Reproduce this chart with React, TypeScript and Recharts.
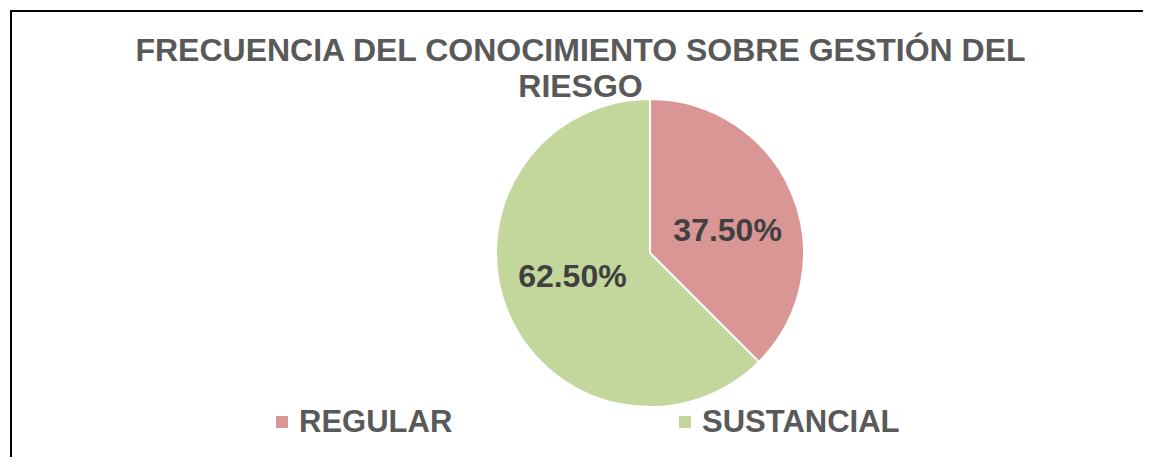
import { PieChart, Pie, Cell, Legend } from 'recharts'

const categories = ['REGULAR', 'SUSTANCIAL']
const counts = [3, 5]
const colors = ['#D99694', '#C3D69B']
const titleLines = ['FRECUENCIA DEL CONOCIMIENTO SOBRE GESTIÓN DEL', 'RIESGO']

const data = categories.map((name, i) => ({ name, value: counts[i] }))

const FONT = '"Liberation Sans", Arial, sans-serif'
const RAD = Math.PI / 180

// Excel "best fit" style placement, a bit flatter than the mid-angle radius
const renderLabel = (p: any) => {
  const x = p.cx + 84 * Math.cos(-p.midAngle * RAD)
  const y = p.cy + 60 * Math.sin(-p.midAngle * RAD)
  return (
    <text x={x} y={y} textAnchor="middle" dominantBaseline="central" fill="#404040"
      style={{ fontFamily: FONT, fontSize: 32, fontWeight: 700 }}>
      {(p.percent * 100).toFixed(2)}%
    </text>
  )
}

const renderLegend = (props: any) => (
  <div style={{ display: 'flex', fontFamily: FONT, fontSize: 31, fontWeight: 700, color: '#595959', lineHeight: '36px' }}>
    {(props.payload || []).map((e: any) => (
      <div key={e.value} style={{ width: 403, display: 'flex', alignItems: 'center' }}>
        <span style={{ width: 12, height: 12, background: e.color, marginRight: 11, display: 'inline-block' }} />
        <span>{e.value}</span>
      </div>
    ))}
  </div>
)

export default function App() {
  return (
    <div style={{ position: 'relative', margin: -8, width: 1151, height: 465, overflow: 'hidden', background: '#fff' }}>
      <div style={{ position: 'absolute', left: 10, top: 10, width: 1141, height: 2, background: '#000' }} />
      <div style={{ position: 'absolute', left: 10, top: 10, width: 2, height: 455, background: '#000' }} />
      <div style={{ position: 'absolute', left: 10, top: 32, width: 1141, textAlign: 'center', fontFamily: FONT, fontSize: 32, fontWeight: 700, color: '#595959', lineHeight: '36px' }}>
        {titleLines.map((t) => <div key={t}>{t}</div>)}
      </div>
      <div style={{ position: 'absolute', left: 0, top: 0 }}>
        <PieChart width={1151} height={465} margin={{ top: 0, right: 0, bottom: 0, left: 0 }}>
          <Pie data={data} dataKey="value" nameKey="name" cx={650} cy={253} outerRadius={154}
            startAngle={90} endAngle={-270} stroke="#fff" strokeWidth={2}
            label={renderLabel} labelLine={false} isAnimationActive={false}>
            {data.map((d, i) => <Cell key={d.name} fill={colors[i]} />)}
          </Pie>
          <Legend content={renderLegend} wrapperStyle={{ left: 276, top: 404, width: 820, bottom: 'auto' }} />
        </PieChart>
      </div>
    </div>
  )
}
